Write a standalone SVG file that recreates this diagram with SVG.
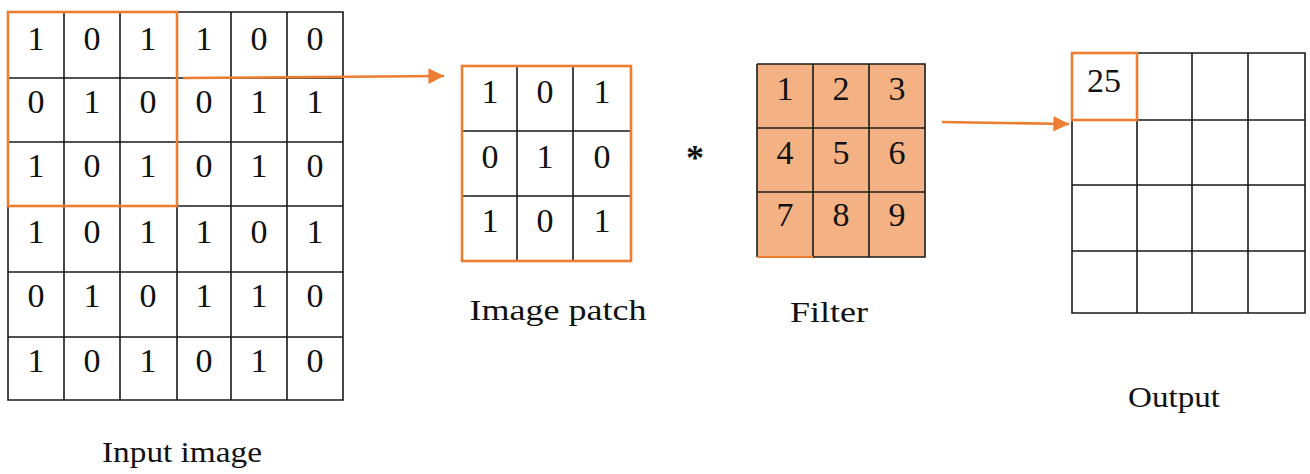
<svg xmlns="http://www.w3.org/2000/svg" width="1310" height="474" viewBox="0 0 1310 474">
<style>
.g{fill:none;stroke:#1a1a1a;stroke-width:1.6}
.o{fill:none;stroke:#ED7D31;stroke-width:2.6}
.d{font-family:"Liberation Serif",serif;font-size:34px;fill:#111;text-anchor:middle}
.l{font-family:"Liberation Serif",serif;font-size:30px;fill:#111;text-anchor:middle}
.c{stroke:#ED7D31;stroke-width:2.6;fill:none}
</style>
<defs>
<marker id="ah" viewBox="0 0 10 10" refX="10" refY="5" markerWidth="6" markerHeight="6" orient="auto" markerUnits="strokeWidth">
<path d="M0,0 L10,5 L0,10 z" fill="#ED7D31"/>
</marker>
</defs>
<rect width="1310" height="474" fill="#fff"/>

<g id="input-image">
<path class="g" d="M8,12 H343 V400 H8 Z M64,12 V400 M120,12 V400 M177,12 V400 M231,12 V400 M287,12 V400 M8,78 H343 M8,142 H343 M8,206 H343 M8,272 H343 M8,337 H343"/>
<g class="d">
<text x="36" y="50">1</text><text x="92" y="50">0</text><text x="148" y="50">1</text><text x="204" y="50">1</text><text x="259" y="50">0</text><text x="315" y="50">0</text>
<text x="36" y="113">0</text><text x="92" y="113">1</text><text x="148" y="113">0</text><text x="204" y="113">0</text><text x="259" y="113">1</text><text x="315" y="113">1</text>
<text x="36" y="177">1</text><text x="92" y="177">0</text><text x="148" y="177">1</text><text x="204" y="177">0</text><text x="259" y="177">1</text><text x="315" y="177">0</text>
<text x="36" y="243">1</text><text x="92" y="243">0</text><text x="148" y="243">1</text><text x="204" y="243">1</text><text x="259" y="243">0</text><text x="315" y="243">1</text>
<text x="36" y="307">0</text><text x="92" y="307">1</text><text x="148" y="307">0</text><text x="204" y="307">1</text><text x="259" y="307">1</text><text x="315" y="307">0</text>
<text x="36" y="372">1</text><text x="92" y="372">0</text><text x="148" y="372">1</text><text x="204" y="372">0</text><text x="259" y="372">1</text><text x="315" y="372">0</text>
</g>
<rect class="o" x="8" y="12" width="169" height="194"/>
<text class="l" x="182" y="462" textLength="160" lengthAdjust="spacingAndGlyphs">Input image</text>
</g>

<g id="image-patch">
<path class="g" d="M517,66 V261 M573,66 V261 M462,131 H631 M462,196 H631"/>
<rect class="o" x="462" y="66" width="169" height="195"/>
<g class="d">
<text x="490" y="103">1</text><text x="545" y="103">0</text><text x="602" y="103">1</text>
<text x="490" y="168">0</text><text x="545" y="168">1</text><text x="602" y="168">0</text>
<text x="490" y="232">1</text><text x="545" y="232">0</text><text x="602" y="232">1</text>
</g>
<text class="l" x="558" y="320" textLength="177" lengthAdjust="spacingAndGlyphs">Image patch</text>
</g>

<g id="operator">
<text x="695" y="170" font-family="Liberation Serif, serif" font-size="36" font-weight="bold" text-anchor="middle" fill="#111">*</text>
</g>

<g id="filter">
<rect x="757" y="64" width="168" height="193" fill="#F4B183"/>
<path class="g" d="M757,64 H925 V257 H813 M757,257 V64 M813,64 V257 M869,64 V257 M757,128 H925 M757,192 H925"/>
<path d="M757,257 H813" stroke="#ED7D31" stroke-width="2.2"/>
<g class="d">
<text x="785" y="100">1</text><text x="841" y="100">2</text><text x="897" y="100">3</text>
<text x="785" y="164">4</text><text x="841" y="164">5</text><text x="897" y="164">6</text>
<text x="785" y="226">7</text><text x="841" y="226">8</text><text x="897" y="226">9</text>
</g>
<text class="l" x="829" y="322" textLength="78" lengthAdjust="spacingAndGlyphs">Filter</text>
</g>

<g id="output">
<path class="g" d="M1072,53 H1305 V313 H1072 Z M1137,53 V313 M1192,53 V313 M1248,53 V313 M1072,120 H1305 M1072,185 H1305 M1072,251 H1305"/>
<rect class="o" x="1072" y="53" width="65" height="67"/>
<text class="d" x="1104" y="92">25</text>
<text class="l" x="1174" y="407" textLength="92" lengthAdjust="spacingAndGlyphs">Output</text>
</g>

<g id="connectors">
<path class="c" d="M183,78 L444,76" marker-end="url(#ah)"/>
<path class="c" d="M942,122 L1069,124" marker-end="url(#ah)"/>
</g>
</svg>
